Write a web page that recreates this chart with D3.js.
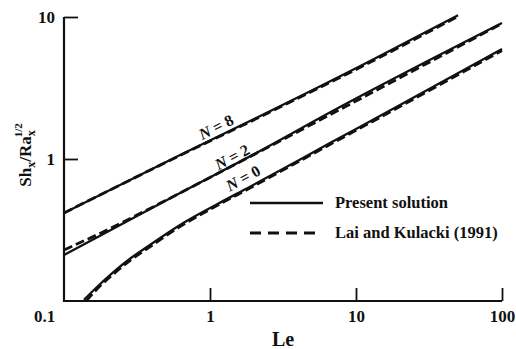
<!DOCTYPE html>
<html>
<head>
<meta charset="utf-8">
<script src="https://cdn.jsdelivr.net/npm/d3@7.9.0/dist/d3.min.js"></script>
<style>
  body { margin: 0; background: #fff; }
  svg { display: block; }
  text { font-family: "Liberation Serif", "DejaVu Serif", serif; font-weight: bold; fill: #111; }
</style>
</head>
<body>
<svg id="chart" width="516" height="349"></svg>
<script>
// values (Le, Sh_x/Ra_x^1/2)
const n8Le = [0.1, 0.624, 2.07, 12.5, 50];
const n8Sh = [0.417, 1.067, 1.944, 4.90, 10.3];
const n8DashLe = [0.1, 0.624, 2.07, 12.5, 50];
const n8DashSh = [0.417, 1.06, 1.92, 4.80, 10.1];

const n2Le = [0.1, 0.624, 2.07, 7.76, 100];
const n2Sh = [0.211, 0.576, 1.10, 2.32, 9.07];
const n2DashLe = [0.1, 0.176, 0.35, 1, 10, 100];
const n2DashSh = [0.229, 0.299, 0.425, 0.741, 2.56, 9.0];

const n0Le = [0.137, 0.169, 0.22, 0.286, 0.372, 0.656, 1.11, 1.88, 6.63, 20, 100];
const n0Sh = [0.102, 0.126, 0.161, 0.200, 0.241, 0.354, 0.478, 0.638, 1.294, 2.40, 5.95];
const n0DashLe = [0.142, 0.169, 0.22, 0.286, 0.372, 0.656, 1.11, 1.88, 6.63, 20, 100];
const n0DashSh = [0.100, 0.122, 0.156, 0.194, 0.234, 0.345, 0.468, 0.625, 1.265, 2.34, 5.8];

const xTicks = [0.1, 1, 10, 100];
const yTicks = [0.1, 1, 10];
const legendLabels = ['Present solution', 'Lai and Kulacki (1991)'];

const svg = d3.select('#chart');
const ink = '#111';

const x = d3.scaleLog().domain([0.1, 100]).range([64, 502]);
const y = d3.scaleLog().domain([0.1, 10]).range([301, 17]);

const zip = (a, b) => a.map((v, i) => [v, b[i]]);

const line = d3.line()
  .x((d) => x(d[0]))
  .y((d) => y(d[1]))
  .curve(d3.curveMonotoneX);

// axes
const xAxis = svg.append('g')
  .attr('transform', 'translate(0,301)')
  .call(d3.axisBottom(x).tickValues(xTicks).tickSize(-13).tickPadding(9)
    .tickFormat((d) => String(d)));
const yAxis = svg.append('g')
  .attr('transform', 'translate(64,0)')
  .call(d3.axisLeft(y).tickValues(yTicks).tickSize(-14).tickPadding(9)
    .tickFormat((d) => String(d)));

[xAxis, yAxis].forEach((g) => {
  g.select('.domain').attr('stroke', ink).attr('stroke-width', 2.2);
  g.selectAll('.tick line').attr('stroke', ink).attr('stroke-width', 1.8);
  g.selectAll('.tick text').style('font-size', '17px').attr('fill', ink);
});
xAxis.select('.domain').attr('d', 'M63,0H502');
yAxis.select('.domain').attr('d', 'M0,17V302');
xAxis.selectAll('.tick').filter((d) => d === 0.1).select('line').remove();
yAxis.selectAll('.tick').filter((d) => d === 0.1).remove();
xAxis.selectAll('.tick text').filter((d) => d === 0.1).attr('dx', -20);
yAxis.selectAll('.tick text').attr('x', -9);

// curves
const solid = [zip(n8Le, n8Sh), zip(n2Le, n2Sh), zip(n0Le, n0Sh)];
const dashed = [zip(n8DashLe, n8DashSh), zip(n2DashLe, n2DashSh), zip(n0DashLe, n0DashSh)];

svg.append('g').selectAll('path')
  .data(dashed)
  .join('path')
  .attr('d', line)
  .attr('fill', 'none')
  .attr('stroke', ink)
  .attr('stroke-width', 2.8)
  .attr('stroke-dasharray', '9,4');

svg.append('g').selectAll('path')
  .data(solid)
  .join('path')
  .attr('d', line)
  .attr('fill', 'none')
  .attr('stroke', ink)
  .attr('stroke-width', 2.3);

// curve labels
const curveLabels = [
  { n: '8', cx: 216, cy: 127, a: -27 },
  { n: '2', cx: 232, cy: 157, a: -28 },
  { n: '0', cx: 243, cy: 178, a: -29 },
];
const lab = svg.append('g').selectAll('text')
  .data(curveLabels)
  .join('text')
  .attr('transform', (d) => `translate(${d.cx},${d.cy}) rotate(${d.a})`)
  .attr('text-anchor', 'middle')
  .attr('dy', '0.35em')
  .style('font-size', '16px');
lab.append('tspan').style('font-style', 'italic').text('N');
lab.append('tspan').text((d) => ` = ${d.n}`);

// legend
const legend = svg.append('g');
legend.append('line')
  .attr('x1', 250).attr('x2', 323).attr('y1', 203).attr('y2', 203)
  .attr('stroke', ink).attr('stroke-width', 2.6);
legend.append('line')
  .attr('x1', 250).attr('x2', 316).attr('y1', 233).attr('y2', 233)
  .attr('stroke', ink).attr('stroke-width', 2.8)
  .attr('stroke-dasharray', '11,7');
legend.selectAll('text')
  .data(legendLabels)
  .join('text')
  .attr('x', 335)
  .attr('y', (_d, i) => 208 + i * 30)
  .style('font-size', '16.5px')
  .text((d) => d);

// axis titles
svg.append('text')
  .attr('x', 283).attr('y', 346)
  .attr('text-anchor', 'middle')
  .style('font-size', '20px')
  .text('Le');

const yt = svg.append('text')
  .attr('transform', 'translate(31,155) rotate(-90)')
  .attr('text-anchor', 'middle')
  .style('font-size', '17px');
yt.append('tspan').text('Sh');
yt.append('tspan').attr('dy', 4).style('font-size', '12px').text('x');
yt.append('tspan').attr('dy', -4).text('/Ra');
yt.append('tspan').attr('dy', 4).style('font-size', '12px').text('x');
yt.append('tspan').attr('dx', -7).attr('dy', -13).style('font-size', '11px').text('1/2');
</script>
</body>
</html>
